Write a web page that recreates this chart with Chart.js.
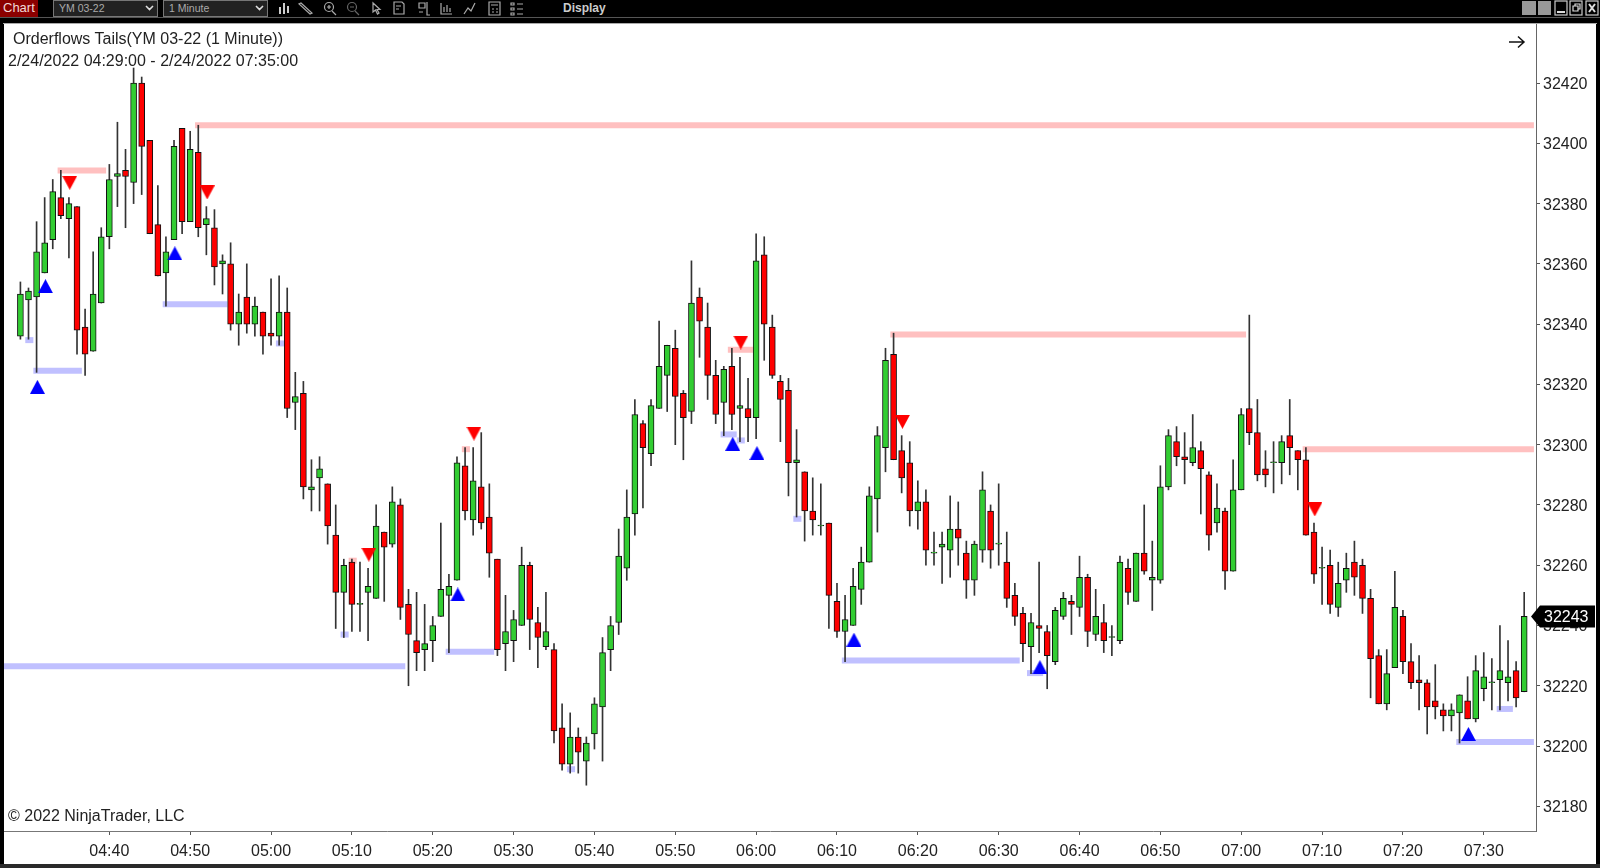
<!DOCTYPE html>
<html>
<head>
<meta charset="utf-8">
<title>Orderflows Tails</title>
<script src="https://cdn.jsdelivr.net/npm/chart.js@4/dist/chart.umd.min.js"></script>
<style>
  html, body { margin: 0; padding: 0; width: 1600px; height: 868px; overflow: hidden; background: #000; font-family: "Liberation Sans", Arial, sans-serif; }
  .abs { position: absolute; white-space: nowrap; }
  #wrap { position: absolute; left: 4px; top: 24px; width: 1592px; height: 840px; background: #fff; }
  #frameTop { position: absolute; left: 0; top: 17px; width: 1600px; height: 1px; background: #555; }
  #frameChart { position: absolute; left: 3px; top: 23px; width: 1594px; height: 1px; background: #aaa; }
  #frameBottom { position: absolute; left: 0; top: 864px; width: 1600px; height: 4px; background: #2a2a2a; }
  #chartBtn { left: 0; top: 0; width: 38px; height: 17px; background: #8b0000; color: #f0d8d8; font-size: 13px; line-height: 16px; text-indent: 3px; }
  .sel { top: 0; width: 103px; height: 15px; background: #222; border: 1px solid #777; color: #aaa; font-size: 10.5px; line-height: 15px; text-indent: 5px; }
  #display { left: 563px; top: 1px; color: #ccc; font-size: 12px; font-weight: bold; line-height: 15px; }
  .label { color: #222; font-size: 16px; line-height: 18px; }
</style>
</head>
<body>
<div id="wrap"><canvas id="ofChart" width="1592" height="840"></canvas></div>
<div id="frameTop"></div>
<div id="frameChart"></div>
<div id="frameBottom"></div>

<div id="chartBtn" class="abs">Chart</div>
<div class="abs sel" style="left:53px">YM 03-22</div>
<div class="abs sel" style="left:163px">1 Minute</div>
<div id="display" class="abs">Display</div>

<svg class="abs" style="left:0;top:0" width="1600" height="17" fill="none" stroke="#aaa" stroke-width="1.2">
  <path d="M146 6l3.5 3.5 3.5-3.5M256 6l3.5 3.5 3.5-3.5" stroke="#ddd" stroke-width="1.6"/>
  <path d="M280 7v7M284 3v11M288 6v7" stroke="#ccc" stroke-width="2"/>
  <path d="M301 3l11 10-2 1-11-10z"/>
  <circle cx="329" cy="7" r="4.5"/><path d="M332 11l4 4M327 7h4M329 5v4"/>
  <circle cx="352" cy="7" r="4.5" stroke="#666"/><path d="M355 11l4 4M350 7h4" stroke="#666"/>
  <path d="M373 3v9l2.5-2 2 4 1.5-1-2-3.5h3z"/>
  <path d="M394 2h8l2 2v10h-10zM396 6h5M396 9h3"/>
  <path d="M419 3h6v5h-6zM419 12h4M427 2v13h3"/>
  <path d="M441 3v11h11M444 12V7M447 12V5M450 12V8"/>
  <path d="M464 14l4-6 3 3 4-8"/>
  <path d="M489 2h11v13h-11zM491 5h7M492 9h2M496 9h2M492 12h2M496 12h2"/>
  <path d="M511 3h3v2h-3zM511 8h3v2h-3zM511 13h3v2h-3zM517 4h6M517 9h6M517 14h6"/>
  <rect x="1522" y="1" width="14" height="14" fill="#999" stroke="none"/>
  <rect x="1538" y="1" width="13" height="14" fill="#999" stroke="none"/>
  <rect x="1555" y="1" width="12" height="14" stroke="#ccc"/><path d="M1557 12h8" stroke="#ddd" stroke-width="2"/>
  <rect x="1570" y="1" width="12" height="14" stroke="#ccc"/><path d="M1573 6h5v5h-5zM1575 6V4h5v5h-2" stroke="#ddd"/>
  <rect x="1586" y="1" width="12" height="14" stroke="#ccc"/><path d="M1589 4l6 8M1595 4l-6 8" stroke="#ddd" stroke-width="2"/>
</svg>

<div class="abs label" style="left:13px;top:30px">Orderflows Tails(YM 03-22 (1 Minute))</div>
<div class="abs label" style="left:8px;top:52px">2/24/2022 04:29:00 - 2/24/2022 07:35:00</div>
<div class="abs label" style="left:8px;top:807px">© 2022 NinjaTrader, LLC</div>
<svg class="abs" style="left:1507px;top:34px" width="20" height="16" fill="none" stroke="#111" stroke-width="1.5">
  <path d="M2 8h15M11 2.5l6 5.5-6 5.5"/>
</svg>

<script>
// one candle per minute, index 0 = 04:29, last = 07:35
const opens = [
  32336,32348,32349,32357,32368,32382,32375,32379,32339,32331,
  32347,32369,32389,32391,32387,32420,32401,32373,32357,32368,
  32405,32374,32397,32373,32372,32360,32360,32340,32349,32340,
  32344,32337,32336,32344,32314,32317,32285,32289,32287,32270,
  32251,32261,32247,32251,32249,32271,32267,32280,32247,32235,
  32232,32235,32243,32250,32255,32293,32275,32286,32276,32262,
  32234,32235,32240,32260,32241,32233,32232,32206,32194,32203,
  32195,32204,32213,32232,32241,32259,32277,32307,32297,32312,
  32323,32332,32317,32311,32349,32339,32323,32314,32326,32312,
  32312,32309,32363,32339,32321,32318,32294,32291,32278,32273,
  32274,32248,32238,32240,32252,32261,32282,32299,32330,32298,
  32294,32278,32281,32264,32266,32265,32272,32264,32255,32265,
  32278,32267,32261,32250,32244,32233,32240,32238,32228,32243,
  32248,32246,32256,32237,32241,32236,32235,32259,32248,32264,
  32255,32255,32286,32301,32296,32294,32298,32290,32274,32278,
  32258,32285,32312,32304,32292,32294,32294,32303,32298,32295,
  32271,32259,32260,32246,32255,32261,32260,32249,32230,32214,
  32226,32243,32228,32222,32221,32215,32212,32210,32211,32215,
  32209,32219,32221,32222,32221,32225,32218
];
const highs = [
  32354,32352,32374,32382,32388,32391,32382,32379,32345,32364,
  32372,32393,32407,32398,32425,32422,32401,32386,32369,32401,
  32405,32404,32406,32379,32378,32363,32367,32350,32360,32349,
  32344,32355,32356,32352,32324,32321,32295,32296,32287,32280,
  32262,32262,32261,32259,32280,32271,32286,32282,32252,32251,
  32247,32243,32274,32257,32296,32299,32299,32304,32287,32262,
  32250,32245,32266,32261,32246,32251,32234,32214,32211,32206,
  32203,32216,32236,32243,32272,32285,32315,32308,32315,32341,
  32333,32338,32318,32361,32352,32347,32328,32326,32332,32329,
  32322,32370,32369,32343,32323,32322,32305,32291,32289,32287,
  32274,32254,32250,32259,32266,32286,32306,32332,32337,32303,
  32301,32288,32285,32271,32271,32283,32281,32268,32268,32291,
  32280,32287,32271,32254,32246,32244,32261,32240,32246,32251,
  32250,32263,32257,32252,32247,32240,32263,32262,32264,32280,
  32268,32293,32305,32306,32304,32310,32301,32291,32287,32279,
  32295,32312,32343,32315,32298,32301,32303,32315,32298,32299,
  32274,32266,32265,32261,32264,32268,32262,32252,32232,32232,
  32258,32245,32234,32230,32222,32227,32214,32214,32217,32223,
  32230,32231,32229,32240,32235,32228,32251
];
const lows = [
  32335,32335,32324,32357,32365,32375,32362,32330,32323,32331,
  32347,32365,32379,32372,32380,32383,32370,32356,32346,32368,
  32370,32374,32369,32363,32353,32350,32338,32333,32337,32336,
  32330,32333,32333,32309,32305,32282,32278,32278,32267,32239,
  32236,32238,32238,32235,32249,32248,32266,32242,32220,32225,
  32225,32228,32243,32231,32255,32275,32270,32272,32256,32230,
  32225,32228,32240,32232,32226,32232,32201,32192,32191,32191,
  32187,32199,32195,32225,32237,32255,32270,32279,32293,32312,
  32311,32300,32295,32307,32329,32315,32307,32303,32305,32301,
  32301,32302,32328,32322,32301,32283,32276,32268,32270,32270,
  32239,32236,32228,32240,32247,32261,32271,32291,32295,32284,
  32273,32272,32260,32260,32254,32256,32260,32249,32250,32261,
  32259,32260,32246,32240,32228,32224,32231,32219,32227,32242,
  32237,32243,32233,32235,32231,32230,32234,32247,32248,32257,
  32245,32254,32285,32293,32287,32293,32277,32265,32271,32252,
  32258,32285,32300,32288,32286,32284,32287,32290,32285,32270,
  32254,32247,32244,32243,32251,32250,32244,32216,32214,32212,
  32226,32224,32219,32212,32204,32209,32205,32205,32201,32209,
  32208,32215,32212,32212,32215,32213,32218
];
const closes = [
  32350,32351,32364,32367,32384,32376,32380,32338,32330,32350,
  32369,32388,32390,32389,32420,32399,32370,32356,32364,32399,
  32374,32398,32372,32375,32359,32361,32340,32344,32340,32346,
  32336,32336,32344,32312,32316,32286,32286,32292,32273,32251,
  32260,32247,32247,32253,32273,32266,32281,32246,32237,32231,
  32234,32240,32252,32253,32294,32278,32288,32274,32264,32232,
  32238,32242,32260,32242,32236,32238,32205,32194,32203,32198,
  32201,32214,32231,32240,32263,32276,32310,32299,32313,32326,
  32333,32316,32309,32347,32341,32323,32310,32325,32310,32313,
  32309,32361,32340,32323,32315,32294,32295,32278,32275,32273,
  32250,32238,32242,32253,32261,32283,32303,32328,32295,32289,
  32278,32281,32265,32264,32267,32272,32269,32255,32267,32285,
  32265,32267,32249,32243,32234,32241,32239,32230,32245,32249,
  32247,32256,32238,32243,32235,32236,32261,32251,32264,32258,
  32256,32286,32303,32296,32295,32299,32292,32270,32279,32258,
  32285,32310,32304,32290,32290,32294,32301,32299,32295,32270,
  32257,32259,32247,32254,32259,32256,32249,32229,32214,32224,
  32246,32228,32221,32221,32213,32213,32210,32212,32217,32209,
  32225,32223,32221,32225,32223,32216,32243
];

// x axis: candle index of each labelled bar
const xTickBars = [11,21,31,41,51,61,71,81,91,101,111,121,131,141,151,161,171,181];
const xTickLabels = ["04:40","04:50","05:00","05:10","05:20","05:30","05:40","05:50","06:00","06:10","06:20","06:30","06:40","06:50","07:00","07:10","07:20","07:30"];
const yTicks = [32180,32200,32220,32240,32260,32280,32300,32320,32340,32360,32380,32400,32420];

// tail levels, from/to in candle index
const redFrom  = [4.6, 21.6, 40.6, 54.6, 87.5, 107.6, 158.6];
const redTo    = [10.6, 187.2, 41.6, 55.6, 90.6, 151.6, 187.2];
const redPrice = [32391, 32406, 32261.5, 32298.5, 32331.5, 32336.6, 32298.5];

const blueFrom  = [0.6, 1.6, 17.6, 31.6, 39.6, -2.1, 52.6, 67.6, 86.6, 88.6, 95.6, 101.6, 124.5, 182.6, 177.6];
const blueTo    = [1.6, 7.6, 25.6, 32.6, 40.6, 47.6, 58.6, 68.6, 88.6, 89.6, 96.6, 123.6, 126.5, 184.6, 187.2];
const bluePrice = [32334.7, 32324.5, 32346.6, 32333.6, 32237, 32226.5, 32231.3, 32192.3, 32303.4, 32301.4, 32275.4, 32228.4, 32224.2, 32212.3, 32201.3];

// triangle signals
const upBars    = [2, 3, 19, 54, 88, 91, 103, 126, 179];
const upPrices  = [32319.2, 32352.6, 32363.5, 32250.3, 32300.3, 32297.2, 32235.3, 32226.2, 32204];
const downBars   = [6, 23, 43, 56, 89, 109, 160];
const downPrices = [32386.9, 32383.7, 32263.5, 32303.7, 32333.9, 32307.6, 32278.5];

const lastPrice = 32243;

const GREEN = '#32cd32';
const RED = '#ff0000';
const bars = opens.map((o, i) => i);

function levelSets(from, to, price, color) {
  return price.map((p, i) => ({
    type: 'scatter',
    showLine: true,
    data: [{x: from[i], y: p}, {x: to[i], y: p}],
    borderColor: color,
    borderWidth: 6,
    borderCapStyle: 'butt',
    pointRadius: 0,
    order: 4
  }));
}

// chart.js triangles are equilateral, these are a bit flatter
function triangleIcon(color, up) {
  const c = document.createElement('canvas');
  c.width = 15;
  c.height = 14;
  const g = c.getContext('2d');
  g.fillStyle = color;
  g.beginPath();
  if (up) {
    g.moveTo(7.5, 0); g.lineTo(15, 14); g.lineTo(0, 14);
  } else {
    g.moveTo(0, 0); g.lineTo(15, 0); g.lineTo(7.5, 14);
  }
  g.closePath();
  g.fill();
  return c;
}

// last price flag on the right axis
const priceFlag = {
  id: 'priceFlag',
  afterDraw(chart) {
    const ctx = chart.ctx;
    const y = chart.scales.y.getPixelForValue(lastPrice);
    const x = chart.chartArea.right - 5;
    ctx.save();
    ctx.fillStyle = '#000';
    ctx.beginPath();
    ctx.moveTo(x, y);
    ctx.lineTo(x + 9, y - 11);
    ctx.lineTo(x + 64, y - 11);
    ctx.lineTo(x + 64, y + 11);
    ctx.lineTo(x + 9, y + 11);
    ctx.closePath();
    ctx.fill();
    ctx.fillStyle = '#fff';
    ctx.font = '16px "Liberation Sans"';
    ctx.textBaseline = 'middle';
    ctx.fillText(String(lastPrice), x + 13, y + 1);
    ctx.restore();
  }
};

const chart = new Chart(document.getElementById('ofChart'), {
  type: 'bar',
  data: {
    datasets: [
      ...levelSets(redFrom, redTo, redPrice, '#ffc0c0'),
      ...levelSets(blueFrom, blueTo, bluePrice, '#c0c0ff'),
      {
        // wicks
        data: bars.map(i => ({x: i, y: [lows[i], highs[i]]})),
        backgroundColor: '#333',
        barThickness: 1,
        grouped: false,
        order: 3
      },
      {
        // bodies
        data: bars.map(i => ({x: i, y: [opens[i], closes[i]]})),
        backgroundColor: bars.map(i => closes[i] >= opens[i] ? GREEN : RED),
        borderColor: '#111',
        borderWidth: 1,
        borderSkipped: false,
        barThickness: 6,
        minBarLength: 1,
        grouped: false,
        order: 2
      },
      {
        type: 'scatter',
        data: upBars.map((b, i) => ({x: b + 0.1, y: upPrices[i]})),
        pointStyle: triangleIcon('#0000ff', true),
        order: 1
      },
      {
        type: 'scatter',
        data: downBars.map((b, i) => ({x: b + 0.1, y: downPrices[i]})),
        pointStyle: triangleIcon('#ff0000', false),
        order: 1
      }
    ]
  },
  options: {
    responsive: false,
    animation: false,
    events: [],
    layout: { padding: 0, autoPadding: false },
    plugins: { legend: { display: false }, tooltip: { enabled: false } },
    scales: {
      x: {
        type: 'linear',
        offset: false,
        min: -2.03,
        max: 187.46,
        afterBuildTicks: s => { s.ticks = xTickBars.map(v => ({value: v})); },
        afterFit: s => { s.height = 33; s.paddingLeft = 0; s.paddingRight = 0; },
        ticks: {
          callback: (v, i) => xTickLabels[i],
          autoSkip: false,
          maxRotation: 0,
          padding: 7,
          color: '#222',
          font: { family: '"Liberation Sans"', size: 16 }
        },
        grid: { offset: false, drawOnChartArea: false, tickLength: 4, tickColor: '#555' },
        border: { color: '#777' }
      },
      y: {
        position: 'right',
        min: 32171.8,
        max: 32439.6,
        afterBuildTicks: s => { s.ticks = yTicks.map(v => ({value: v})); },
        afterFit: s => { s.width = 60; s.paddingTop = 0; s.paddingBottom = 0; },
        ticks: {
          callback: v => String(v),
          autoSkip: false,
          padding: 3,
          labelOffset: 1.5,
          color: '#222',
          font: { family: '"Liberation Sans"', size: 16 }
        },
        grid: { drawOnChartArea: false, tickLength: 4, tickColor: '#555' },
        border: { color: '#666' }
      }
    }
  },
  plugins: [priceFlag]
});
</script>
</body>
</html>
